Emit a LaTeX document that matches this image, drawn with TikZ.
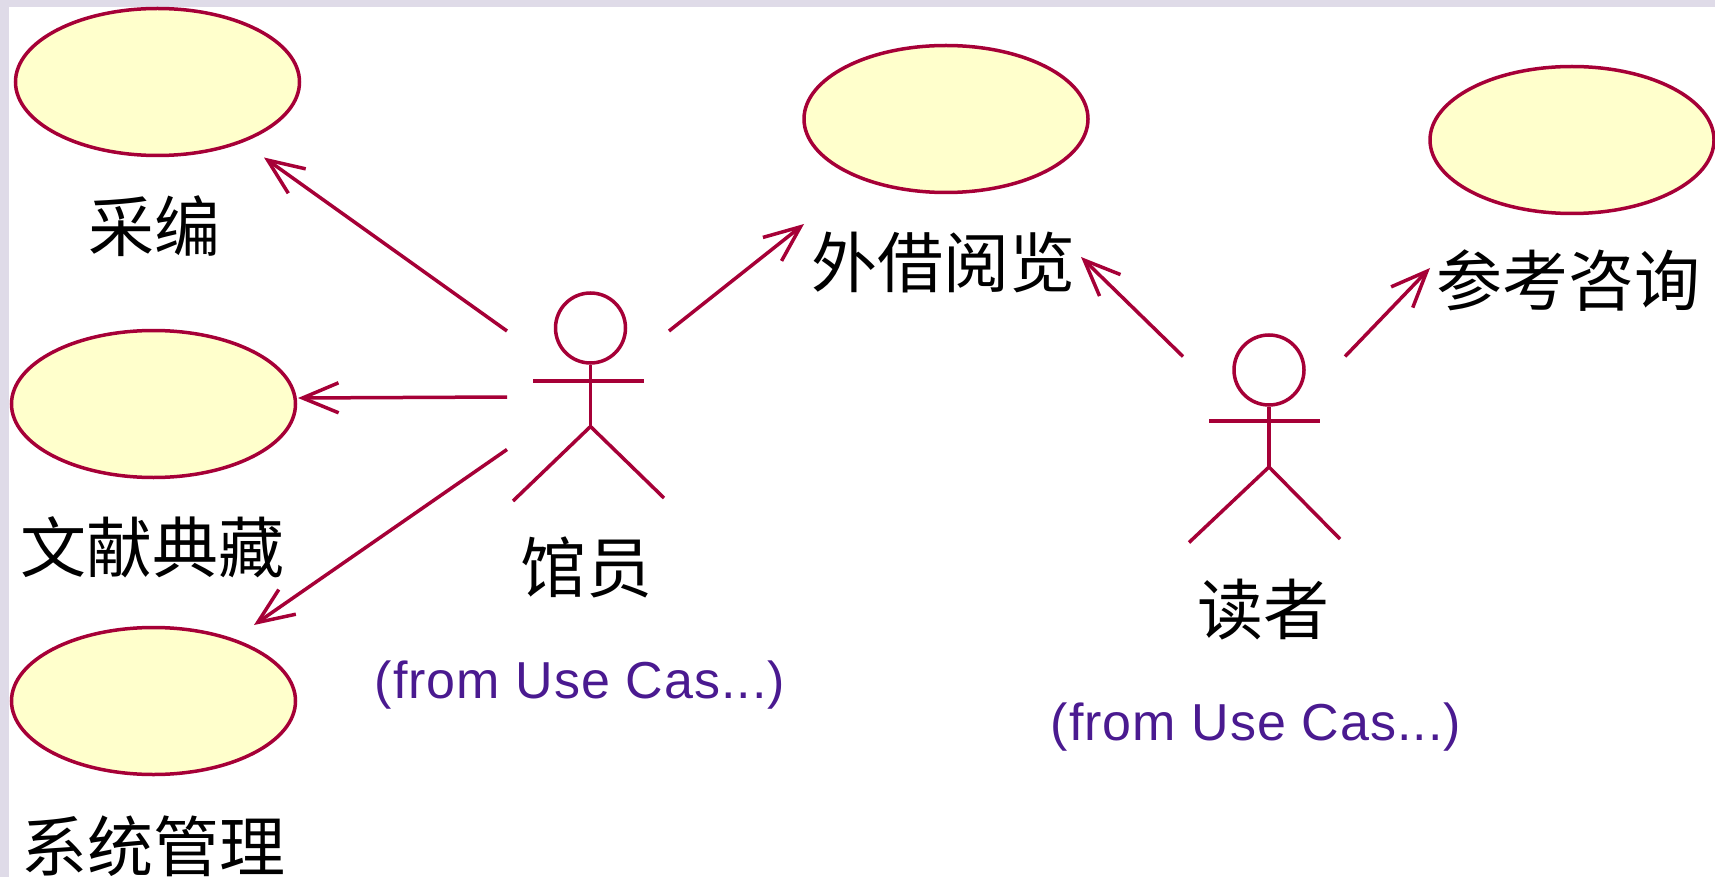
\documentclass[tikz,border=0pt]{standalone}
\usepackage{fontspec}
\setmainfont[LetterSpace=2]{Liberation Sans}
\newfontfamily\cjk{Noto Sans CJK SC}
\usetikzlibrary{arrows.meta,shapes.geometric}
\definecolor{umlred}{HTML}{A60037}
\definecolor{umlfill}{HTML}{FFFFCC}
\definecolor{edge}{HTML}{DFDBE8}
\definecolor{fromtxt}{HTML}{4A1A90}
\tikzset{
  usecase/.style={ellipse,draw=umlred,fill=umlfill,line width=3.5pt,minimum width=284pt,minimum height=147pt,inner sep=0pt},
  cjklabel/.style={font=\cjk\fontsize{66}{72}\selectfont,text=black,inner sep=0pt},
  fromlabel/.style={font=\fontsize{52}{58}\selectfont,text=fromtxt,inner sep=0pt},
  assoc/.style={draw=umlred,line width=3.5pt,-{Straight Barb[length=36pt,width=30pt,line width=3.5pt]}},
  limb/.style={draw=umlred,line width=3.5pt},
  headc/.style={circle,draw=umlred,line width=3.5pt,minimum size=70pt,inner sep=0pt}
}
\begin{document}
\begin{tikzpicture}[x=1pt,y=-1pt]
\useasboundingbox (0,0) rectangle (1715,877);
\clip (0,0) rectangle (1715,877);
\fill[edge] (0,0) rectangle (1715,877);
\fill[white] (9,7) rectangle (1715,877);
% use cases
\node[usecase] (caibian) at (157.5,82) {};
\node[usecase] (diancang) at (153.5,404) {};
\node[usecase] (xitong) at (153.5,701) {};
\node[usecase] (jieyue) at (946,119) {};
\node[usecase] (zixun) at (1572,140) {};
% labels
\node[cjklabel] (l1) at (154,226) {采编};
\node[cjklabel] (l2) at (152,547) {文献典藏};
\node[cjklabel] (l3) at (153,846) {系统管理};
\node[cjklabel] (l4) at (943,262) {外借阅览};
\node[cjklabel] (l5) at (1568,281) {参考咨询};
\node[cjklabel] (l6) at (586,567) {馆员};
\node[cjklabel] (l7) at (1263,610) {读者};
\node[fromlabel] (f1) at (580,685) {(from Use Cas...)};
\node[fromlabel] (f2) at (1256,727) {(from Use Cas...)};
% actor 1
\node[headc] (h1) at (590.5,328) {};
\coordinate (n1) at (590.5,426.5);
\coordinate (al1) at (533,381);
\coordinate (ar1) at (644,381);
\coordinate (fl1) at (513,501);
\coordinate (fr1) at (664,498);
\draw[limb] (h1.south) -- (n1);
\draw[limb] (al1) -- (ar1);
\draw[limb] (fl1) -- (n1) -- (fr1);
% actor 2
\node[headc] (h2) at (1269,370) {};
\coordinate (n2) at (1269,467);
\coordinate (al2) at (1209,421);
\coordinate (ar2) at (1320,421);
\coordinate (fl2) at (1189,542.5);
\coordinate (fr2) at (1340,539);
\draw[limb] (h2.south) -- (n2);
\draw[limb] (al2) -- (ar2);
\draw[limb] (fl2) -- (n2) -- (fr2);
% association ends
\coordinate (s1) at (507,331);
\coordinate (t1) at (264,157.5);
\coordinate (s2) at (507,397);
\coordinate (t2) at (298,398);
\coordinate (s3) at (507,449.5);
\coordinate (t3) at (254,625);
\coordinate (s4) at (669,331);
\coordinate (t4) at (804,224);
\coordinate (s5) at (1183,356.5);
\coordinate (t5) at (1081,257);
\coordinate (s6) at (1345,356.5);
\coordinate (t6) at (1430,268);
\draw[assoc] (s1) -- (t1);
\draw[assoc] (s2) -- (t2);
\draw[assoc] (s3) -- (t3);
\draw[assoc] (s4) -- (t4);
\draw[assoc] (s5) -- (t5);
\draw[assoc] (s6) -- (t6);
\end{tikzpicture}
\end{document}
